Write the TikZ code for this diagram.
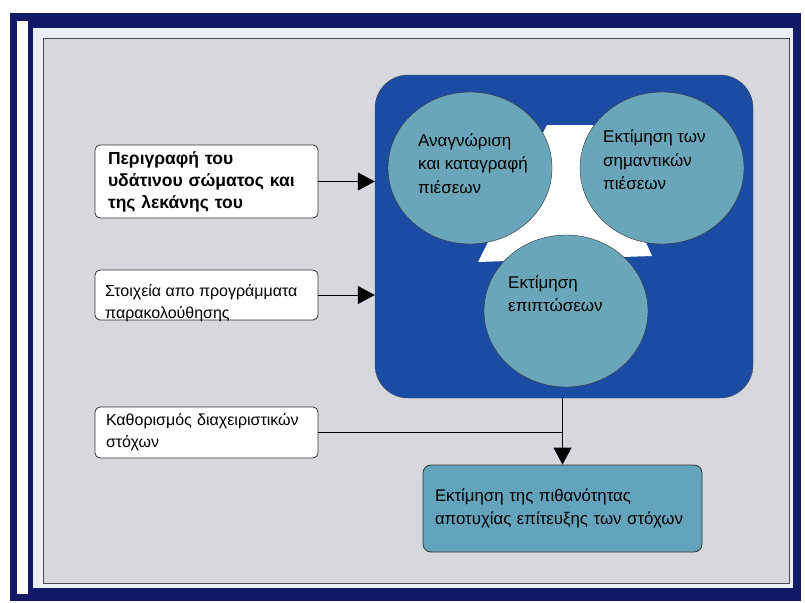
\documentclass[tikz,border=0pt]{standalone}
\usepackage{fontspec}
\setmainfont{Liberation Sans}
\usetikzlibrary{arrows.meta,shapes.geometric}

\definecolor{framenavy}{RGB}{18,26,104}
\definecolor{marginfill}{RGB}{236,238,246}
\definecolor{panelgray}{RGB}{214,216,222}
\definecolor{coreblue}{RGB}{27,76,164}
\definecolor{bubblefill}{RGB}{106,166,185}
\definecolor{riskfill}{RGB}{100,163,188}

\newcommand{\boxfont}{\fontsize{16}{22}\selectfont}
\newcommand{\bubfont}{\fontsize{17}{23.5}\selectfont}

\tikzset{
  inbox/.style={draw=black!80,thick,fill=white,rounded corners=5pt,
    minimum width=223pt,text width=201pt,inner xsep=11pt,align=left,font=\boxfont},
  riskbox/.style={draw=black!80,thick,fill=riskfill,rounded corners=8pt,
    minimum width=279pt,minimum height=87pt,text width=255pt,inner xsep=12pt,align=left,
    font=\fontsize{16.8}{23}\selectfont},
  corebox/.style={draw=black!70,fill=coreblue,rounded corners=33pt,
    minimum width=378pt,minimum height=323pt},
  bubble/.style={ellipse,draw=black!80,fill=bubblefill,
    minimum width=164pt,minimum height=152pt},
  bubtext/.style={anchor=west,align=left,inner sep=0pt,font=\bubfont},
  arr/.style={-{Triangle[length=17pt,width=18pt]},thick}
}

\begin{document}
\begin{tikzpicture}[x=1pt,y=-1pt]

\useasboundingbox (0,0) rectangle (805,602);

\fill[framenavy] (10,13) rectangle (801,601);
\fill[marginfill] (33,28) rectangle (793,588);
\fill[white] (17,21) rectangle (28,594);
\filldraw[thick,draw=black!70,fill=panelgray] (43,38) rectangle (789,583);

\node[corebox] (core) at (564,236.5) {};
\fill[white] (547,125) -- (593,125) -- (652,256) -- (478,262) -- cycle;

\node[bubble] (pA) at (470,168) {};
\node[bubble] (pB) at (662,168) {};
\node[bubble] (pC) at (566,311) {};

\node[bubtext] (tA) at (418,163.5) {Αναγνώριση\\και καταγραφή\\πιέσεων};
\node[bubtext] (tB) at (603,160)   {Εκτίμηση των\\σημαντικών\\πιέσεων};
\node[bubtext] (tC) at (508,293.5) {Εκτίμηση\\επιπτώσεων};

\node[inbox,minimum height=73pt,inner xsep=13pt,text width=197pt,
  font=\fontsize{17.5}{22}\selectfont\bfseries] (desc) at (206.5,181.5)
  {Περιγραφή του\\υδάτινου σώματος και\\της λεκάνης του};
\node[inbox,minimum height=50pt] (obs) at (206.5,295) {};
\node[bubtext,font=\boxfont] (tobs) at (105,303) {Στοιχεία απο προγράμματα\\παρακολούθησης};
\node[inbox,minimum height=51pt] (goals) at (206.5,432.5)
  {Καθορισμός διαχειριστικών\\στόχων};

\node[riskbox] (risk) at (562.5,508.5)
  {Εκτίμηση της πιθανότητας\\αποτυχίας επίτευξης των στόχων};

\draw[arr] (desc.east) -- (desc.east -| core.west);
\draw[arr] (obs.east)  -- (obs.east -| core.west);
\draw[thick] (goals.east) -- (goals.east -| risk.north);
\draw[arr] (core.south -| risk.north) -- (risk.north);

\end{tikzpicture}
\end{document}
